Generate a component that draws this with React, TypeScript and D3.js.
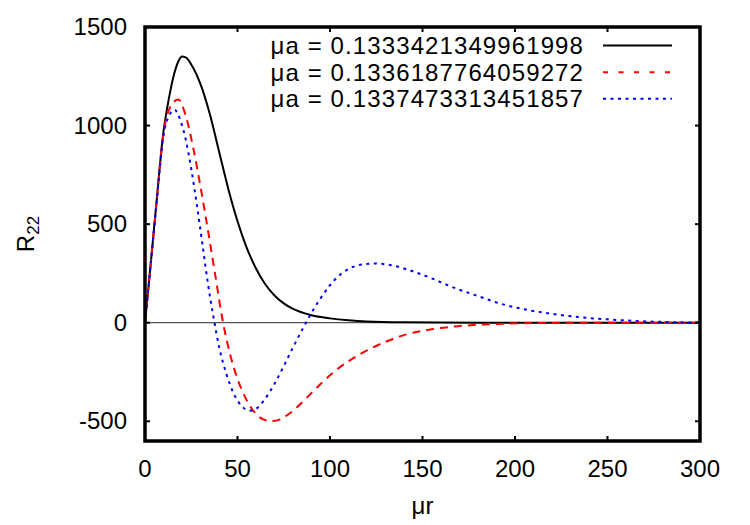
import React, { useEffect, useRef } from 'react';
import * as d3 from 'd3';

// Radial samples (mu*r) and R22 values for each mu*a
const rBlack = [0, 3, 6, 10, 12, 14, 16, 18, 20, 22, 25, 30, 35, 40, 45, 50, 55, 60, 65, 70, 75, 80, 90, 100, 110, 120, 140, 160, 200, 250, 300];
const vBlack = [0, 290, 590, 970, 1090, 1190, 1270, 1325, 1350, 1346, 1310, 1210, 1060, 870, 680, 515, 380, 275, 195, 138, 98, 70, 38, 22, 12, 6, 2, 1, 0, 0, 0];

const rRed = [0, 3, 6, 10, 14, 18, 22, 26, 30, 34, 38, 42, 46, 50, 54, 58, 62, 66, 69, 73, 77, 82, 88, 95, 102, 110, 120, 130, 140, 155, 170, 190, 220, 260, 300];
const vRed = [0, 290, 585, 960, 1100, 1132, 1050, 890, 690, 470, 240, 10, -160, -285, -375, -440, -480, -496, -498, -490, -468, -430, -375, -310, -250, -195, -140, -97, -63, -33, -17, -6, -1, 0, 0];

const rBlue = [0, 3, 6, 10, 13, 16, 19, 22, 25, 28, 31, 34, 37, 40, 44, 48, 52, 56, 58, 61, 65, 70, 75, 80, 85, 90, 95, 100, 105, 110, 117, 124, 133, 143, 155, 165, 180, 192, 205, 220, 235, 250, 265, 280, 300];
const vBlue = [0, 288, 580, 950, 1050, 1080, 1030, 930, 780, 600, 400, 200, 30, -120, -260, -360, -420, -445, -446, -430, -385, -310, -220, -125, -35, 50, 125, 190, 240, 272, 295, 300, 292, 266, 225, 185, 135, 97, 68, 45, 28, 17, 9, 4, 0];

const muA = ['0.1333421349961998', '0.1336187764059272', '0.1337473313451857'];
const xTicks = [0, 50, 100, 150, 200, 250, 300];
const yTicks = [-500, 0, 500, 1000, 1500];

const series = [
  { r: rBlack, v: vBlack, color: '#000000', dash: null as string | null, keyDash: null as string | null },
  { r: rRed, v: vRed, color: '#ff0000', dash: '8,6', keyDash: '5,10.5' },
  { r: rBlue, v: vBlue, color: '#0000ff', dash: '3,4.5', keyDash: '3,4.5' },
];

const FONT = '"Liberation Sans", Arial, sans-serif';

export default function App() {
  const svgRef = useRef<SVGSVGElement>(null);

  useEffect(() => {
    if (!svgRef.current) return;
    const width = 750;
    const height = 525;
    const left = 145;
    const right = 700;
    const top = 27;
    const bottom = 441;

    d3.select(svgRef.current).selectAll('*').remove();
    const svg = d3.select(svgRef.current).attr('width', width).attr('height', height);

    const x = d3.scaleLinear().domain([0, 300]).range([left, right]);
    const y = d3.scaleLinear().domain([-600, 1500]).range([bottom, top]);

    // zero axis
    svg
      .append('line')
      .attr('x1', x(0))
      .attr('x2', x(300))
      .attr('y1', y(0))
      .attr('y2', y(0))
      .attr('stroke', '#555')
      .attr('stroke-width', 1.3);

    // curves
    const line = d3
      .line<[number, number]>()
      .x((d) => x(d[0]))
      .y((d) => y(d[1]))
      .curve(d3.curveMonotoneX);

    series.forEach((s) => {
      const pts = s.r.map((r, i) => [r, s.v[i]] as [number, number]);
      const p = svg
        .append('path')
        .attr('d', line(pts))
        .attr('fill', 'none')
        .attr('stroke', s.color)
        .attr('stroke-width', 2);
      if (s.dash) p.attr('stroke-dasharray', s.dash);
    });

    // ticks, mirrored on all four sides
    const tk = 5;
    const ticks = svg.append('g').attr('stroke', '#000').attr('stroke-width', 2);
    xTicks.forEach((t) => {
      ticks.append('line').attr('x1', x(t)).attr('x2', x(t)).attr('y1', bottom).attr('y2', bottom - tk);
      ticks.append('line').attr('x1', x(t)).attr('x2', x(t)).attr('y1', top).attr('y2', top + tk);
    });
    yTicks.forEach((t) => {
      ticks.append('line').attr('x1', left).attr('x2', left + tk).attr('y1', y(t)).attr('y2', y(t));
      ticks.append('line').attr('x1', right).attr('x2', right - tk).attr('y1', y(t)).attr('y2', y(t));
    });

    // frame
    svg
      .append('rect')
      .attr('x', left)
      .attr('y', top)
      .attr('width', right - left)
      .attr('height', bottom - top)
      .attr('fill', 'none')
      .attr('stroke', '#000')
      .attr('stroke-width', 3.5);

    // tick labels
    const labels = svg.append('g').attr('font-family', FONT).attr('font-size', 24).attr('fill', '#000');
    xTicks.forEach((t) => {
      labels.append('text').attr('x', x(t)).attr('y', 477).attr('text-anchor', 'middle').text(t);
    });
    yTicks.forEach((t) => {
      labels.append('text').attr('x', 127).attr('y', y(t) + 8).attr('text-anchor', 'end').text(t);
    });

    // axis titles
    labels.append('text').attr('x', (left + right) / 2).attr('y', 514).attr('text-anchor', 'middle').text('μr');
    const yt = labels
      .append('text')
      .attr('transform', `translate(34,${(top + bottom) / 2}) rotate(-90)`)
      .attr('text-anchor', 'middle');
    yt.append('tspan').text('R');
    yt.append('tspan').attr('font-size', 17).attr('dy', 5).text('22');

    // legend
    const baselines = [54, 80.7, 107.3];
    series.forEach((s, i) => {
      labels
        .append('text')
        .attr('x', 584)
        .attr('y', baselines[i])
        .attr('text-anchor', 'end')
        .attr('letter-spacing', 1.1)
        .text(`μa = ${muA[i]}`);
      const ly = baselines[i] - 8.5;
      const l = svg
        .append('line')
        .attr('x1', 603)
        .attr('x2', 672)
        .attr('y1', ly)
        .attr('y2', ly)
        .attr('stroke', s.color)
        .attr('stroke-width', 2);
      if (s.keyDash) l.attr('stroke-dasharray', s.keyDash);
    });
  }, []);

  return (
    <div style={{ position: 'absolute', left: 0, top: 0 }}>
      <svg ref={svgRef}></svg>
    </div>
  );
}
